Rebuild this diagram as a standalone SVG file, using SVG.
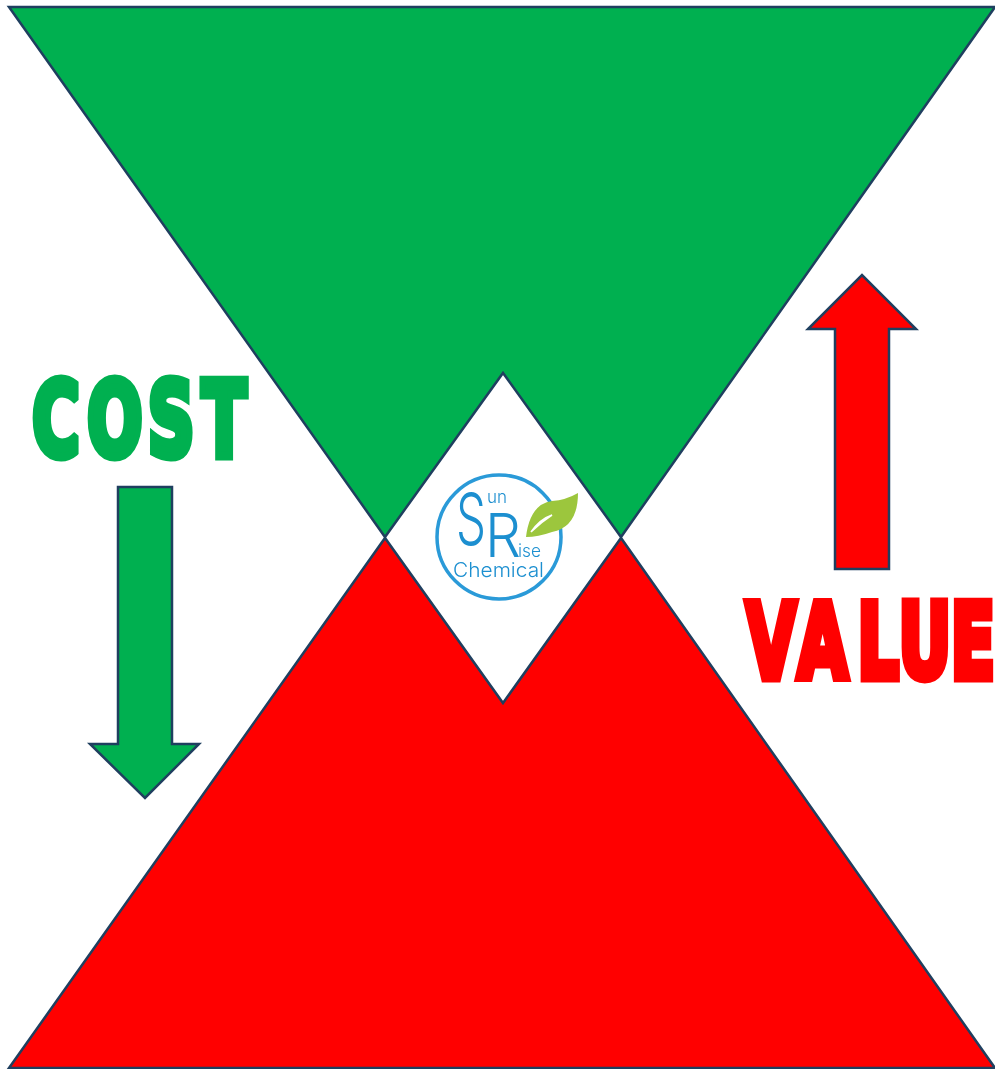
<svg xmlns="http://www.w3.org/2000/svg" width="995" height="1069" viewBox="0 0 995 1069">
<style>
.s{stroke:#1f3f5f;stroke-width:2.5;stroke-linejoin:miter}
.g{fill:#00b050}.r{fill:#ff0000}
.big{font-family:"DejaVu Sans","Liberation Sans",sans-serif;font-weight:700;font-size:103px;stroke-width:9px;stroke-linejoin:miter;stroke-miterlimit:2}
.b{fill:#1c8fd0;font-family:"Inter","Liberation Sans",Arial,sans-serif;font-weight:300}
</style>
<defs><filter id="soft" x="-5%" y="-5%" width="110%" height="110%"><feGaussianBlur stdDeviation="0.5"/></filter></defs>
<rect width="995" height="1069" fill="#fff"/>
<g id="top-funnel"><path class="s g" d="M9 7H995L621 537 503 373 385 537Z"/></g>
<g id="bottom-funnel"><path class="s r" d="M9 1068H995L621 538 503 703 385 538Z"/></g>
<g id="cost"><text class="big g" transform="scale(.63 1)" x="51.1 138.7 234.4 320.6" y="456.5" stroke="#00b050">COST</text></g>
<g id="value"><text class="big r" transform="scale(.63 1)" x="1184 1266 1361 1426 1509" y="678.5" stroke="#ff0000">VALUE</text></g>
<g id="connectors">
<path class="s g" d="M118 487H172V744H199L145 798 90 744H118Z"/>
<path class="s r" d="M835 569H889V329H916L862 275 808 329H835Z"/>
</g>
<g id="logo" filter="url(#soft)">
<circle cx="499" cy="537" r="62" fill="none" stroke="#2a9ad8" stroke-width="3.5"/>
<path d="M526 537Q530 504 552 501Q566 500 578 493Q578 527 552 532Q538 537 526 537Z" fill="#9cc63c"/>
<path d="M531 532Q540 519 552 515Q541 522 531 532Z" fill="none" stroke="#fff" stroke-width="1.5"/>
<text class="b" x="456" y="545" font-size="72" textLength="30" lengthAdjust="spacingAndGlyphs">S</text>
<text class="b" x="485" y="557" font-size="60" textLength="36" lengthAdjust="spacingAndGlyphs">R</text>
<text class="b" x="487" y="503" font-size="18" textLength="20" lengthAdjust="spacingAndGlyphs">un</text>
<text class="b" x="518" y="557" font-size="18" textLength="23" lengthAdjust="spacingAndGlyphs">ise</text>
<text class="b" x="453" y="577" font-size="20" textLength="91" lengthAdjust="spacingAndGlyphs">Chemical</text>
</g>
</svg>
